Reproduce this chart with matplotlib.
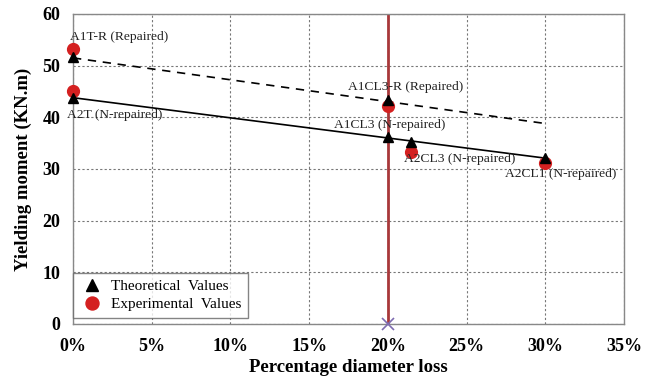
import matplotlib
matplotlib.use("Agg")
import matplotlib.pyplot as plt
from matplotlib.ticker import FuncFormatter

plt.rcParams['font.family'] = ['Liberation Serif', 'DejaVu Serif']

# Data
theo_x = [0, 0, 20, 20, 21.5, 30]
theo_y = [51.7, 43.8, 43.4, 36.2, 35.2, 32.1]
exp_x = [0, 0, 20, 21.5, 30]
exp_y = [53.2, 45.1, 42.2, 33.3, 31.2]
trend_x = [0, 30]
nrep_trend = [43.8, 32.1]
rep_trend = [51.5, 38.8]
limit_x = 20
labels = ["A1T-R (Repaired)", "A2T (N-repaired)", "A1CL3-R (Repaired)",
          "A1CL3 (N-repaired)", "A2CL3 (N-repaired)", "A2CL1 (N-repaired)"]
label_pos = [(-0.2, 55.5), (-0.4, 40.5), (17.5, 45.9), (16.6, 38.6), (21.0, 31.9), (27.45, 29.1)]

fig = plt.figure(figsize=(6.54, 3.78), dpi=100)
ax = fig.add_axes([0.1116, 0.1429, 0.8425, 0.8201])

ax.set_xlim(0, 35)
ax.set_ylim(0, 60)
ax.set_xticks(range(0, 36, 5))
ax.set_yticks(range(0, 61, 10))
ax.xaxis.set_major_formatter(FuncFormatter(lambda v, p: f"{int(v)}%"))
ax.grid(True, color='#777777', linestyle=(0, (2, 2)), linewidth=0.8)
ax.set_axisbelow(True)
for s in ax.spines.values():
    s.set_color('#888888')
    s.set_linewidth(1.0)
ax.tick_params(axis='x', length=0, labelsize=13, pad=10)
ax.tick_params(axis='y', length=0, labelsize=13, pad=9)
for lab in ax.get_xticklabels() + ax.get_yticklabels():
    lab.set_fontweight('bold')

ax.plot([limit_x, limit_x], [0, 60], color='#a8383a', linewidth=2, zorder=2)
ax.plot([limit_x], [0], marker='x', color='#7d6bb0', markersize=8, mew=1.2, zorder=5, clip_on=False)

ax.plot(trend_x, nrep_trend, color='black', linewidth=1.2, zorder=3)
ax.plot(trend_x, rep_trend, color='black', linewidth=1.2, linestyle=(0, (5, 4)), zorder=3)

ax.plot(exp_x, exp_y, linestyle='none', marker='o', markersize=8.5, color='#d42020',
        label='Experimental  Values', zorder=4, clip_on=False)
ax.plot(theo_x, theo_y, linestyle='none', marker='^', markersize=7.5, color='black',
        label='Theoretical  Values', zorder=5, clip_on=False)

for t, (lx, ly) in zip(labels, label_pos):
    ax.text(lx, ly, t, fontsize=9.7, color='#222222', ha='left', va='center', zorder=6)

handles, labs = ax.get_legend_handles_labels()
leg = ax.legend(handles[::-1], labs[::-1], loc='lower left', bbox_to_anchor=(0.0, 0.02),
                fontsize=11, frameon=True, fancybox=False, edgecolor='#666666',
                borderpad=0.45, handletextpad=0.45, labelspacing=0.25, borderaxespad=0,
                handlelength=1.6, markerscale=1.1)
leg.get_frame().set_linewidth(1.0)

ax.set_xlabel('Percentage diameter loss', fontsize=13.5, fontweight='bold', labelpad=3)
ax.set_ylabel('Yielding moment (KN.m)', fontsize=13.5, fontweight='bold', labelpad=8)

fig.savefig('out.png', dpi=100)
